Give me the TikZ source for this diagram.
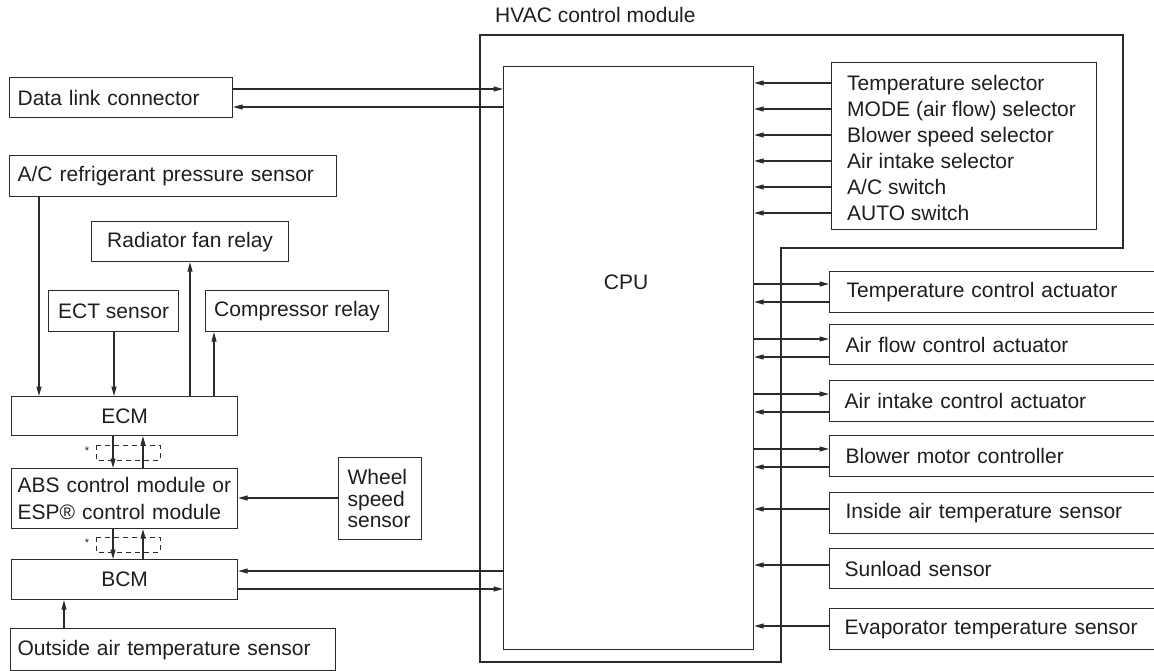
\documentclass[tikz,border=0pt]{standalone}
\usepackage{fontspec}
\setmainfont{Liberation Sans}
\usetikzlibrary{arrows.meta}
\definecolor{ink}{HTML}{2B2B2B}
\definecolor{txt}{HTML}{1E1E1E}
\begin{document}
\begin{tikzpicture}[x=1pt,y=-1pt,
  every node/.style={font=\fontsize{21}{25}\selectfont, text=txt},
  box/.style={draw=ink, line width=1.2pt, inner ysep=0pt, anchor=north west},
  lbox/.style={box, align=left},
  cbox/.style={box, align=center, inner xsep=0pt},
  lab/.style={inner sep=0pt, anchor=base west},
  arr/.style={draw=ink, line width=1.1pt, -{Triangle[length=9.5pt,width=5pt]}},
  ln/.style={draw=ink, line width=1.2pt, line join=miter},
  dbox/.style={draw=ink, line width=1pt, dash pattern=on 5pt off 4pt},
  star/.style={inner sep=0pt, font=\fontsize{11}{11}\selectfont}]
\useasboundingbox (0,0) rectangle (1154,671);
\clip (0,0) rectangle (1154,671);

% HVAC control module outline
\node[lab] (hvac) at (495,22.5) {HVAC control module};
\draw[ln] (480,35) -- (1123,35) -- (1123,248) -- (781,248) -- (781,662) -- (480,662) -- cycle;

% CPU
\node[box, inner sep=0pt, minimum width=250, minimum height=583] (cpu) at (503,66) {};
\node[inner sep=0pt] (cpul) at (626,282) {CPU};

% selector box
\node[box, inner sep=0pt, minimum width=265, minimum height=167] (sel) at (831,62) {};
\node[lab] (s1) at (847,90.5) {Temperature selector};
\node[lab] (s2) at (847,116.5) {MODE (air flow) selector};
\node[lab] (s3) at (847,142.5) {Blower speed selector};
\node[lab] (s4) at (847,168.5) {Air intake selector};
\node[lab] (s5) at (847,194.5) {A/C switch};
\node[lab] (s6) at (847,220.5) {AUTO switch};
\foreach \y in {83,109,135,161,187,213}
  \draw[arr] (sel.west |- 0,\y) -- (cpu.east |- 0,\y);

% right boxes
\node[lbox, minimum width=331, text width=297, inner xsep=17, minimum height=41] (tca) at (829,271) {Temperature control actuator};
\node[lbox, minimum width=331, text width=299, inner xsep=16, minimum height=40] (afa) at (829,324) {Air flow control actuator};
\node[lbox, minimum width=331, text width=301, inner xsep=15, minimum height=41] (aia) at (829,380) {Air intake control actuator};
\node[lbox, minimum width=331, text width=299, inner xsep=16, minimum height=41] (bmc) at (829,435) {Blower motor controller};
\node[lbox, minimum width=331, text width=299, inner xsep=16, minimum height=41] (iat) at (829,492) {Inside air temperature sensor};
\node[lbox, minimum width=331, text width=301, inner xsep=15, minimum height=40] (sun) at (829,548) {Sunload sensor};
\node[lbox, minimum width=331, text width=301, inner xsep=15, minimum height=41] (evt) at (829,608) {Evaporator temperature sensor};

\draw[arr] (cpu.east |- 0,284) -- (tca.west |- 0,284);
\draw[arr] (tca.west |- 0,302) -- (cpu.east |- 0,302);
\draw[arr] (cpu.east |- 0,339) -- (afa.west |- 0,339);
\draw[arr] (afa.west |- 0,357) -- (cpu.east |- 0,357);
\draw[arr] (cpu.east |- 0,394) -- (aia.west |- 0,394);
\draw[arr] (aia.west |- 0,412) -- (cpu.east |- 0,412);
\draw[arr] (cpu.east |- 0,449) -- (bmc.west |- 0,449);
\draw[arr] (bmc.west |- 0,467) -- (cpu.east |- 0,467);
\draw[arr] (iat.west |- 0,509) -- (cpu.east |- 0,509);
\draw[arr] (sun.west |- 0,565) -- (cpu.east |- 0,565);
\draw[arr] (evt.west |- 0,626) -- (cpu.east |- 0,626);

% left side
\node[lbox, minimum width=223, text width=207, inner xsep=8, minimum height=40] (dlc) at (9,77) {Data link connector};
\node[lbox, minimum width=327, text width=311, inner xsep=8, minimum height=41] (acp) at (9,155) {A/C refrigerant pressure sensor};
\node[cbox, minimum width=197, minimum height=40] (rfr) at (91,221) {Radiator fan relay};
\node[cbox, minimum width=130, minimum height=41] (ect) at (48,290) {ECT sensor};
\node[cbox, minimum width=183, minimum height=41] (cpr) at (205,290) {Compressor relay};
\node[cbox, minimum width=226, minimum height=39] (ecm) at (11,396) {ECM};
\node[lbox, minimum width=226, text width=214, inner xsep=6, minimum height=60, font=\fontsize{21}{27}\selectfont] (abs) at (11,468) {ABS control module or\\ESP® control module};
\node[lbox, minimum width=83, text width=65, inner xsep=9, minimum height=82, font=\fontsize{21}{21.5}\selectfont] (wss) at (338,457) {Wheel\\speed\\sensor};
\node[cbox, minimum width=226, minimum height=40] (bcm) at (11,559) {BCM};
\node[lbox, minimum width=325, text width=311, inner xsep=7, minimum height=42] (oat) at (10,628) {Outside air temperature sensor};

\draw[arr] (dlc.east |- 0,89) -- (cpu.west |- 0,89);
\draw[arr] (cpu.west |- 0,107) -- (dlc.east |- 0,107);
\draw[arr] (acp.south -| 39,0) -- (ecm.north -| 39,0);
\draw[arr] (ect.south -| 114,0) -- (ecm.north -| 114,0);
\draw[arr] (ecm.north -| 190,0) -- (rfr.south -| 190,0);
\draw[arr] (ecm.north -| 214,0) -- (cpr.south -| 214,0);

% ECM <-> ABS
\draw[dbox] (96,445) rectangle (160,460);
\node[star] (st1) at (87,451) {*};
\draw[arr] (ecm.south -| 113,0) -- (abs.north -| 113,0);
\draw[arr] (abs.north -| 143,0) -- (ecm.south -| 143,0);

% ABS <-> BCM
\draw[dbox] (96,537) rectangle (160,552);
\node[star] (st2) at (87,543) {*};
\draw[arr] (abs.south -| 113,0) -- (bcm.north -| 113,0);
\draw[arr] (bcm.north -| 143,0) -- (abs.south -| 143,0);

\draw[arr] (wss.west |- 0,498) -- (abs.east |- 0,498);
\draw[arr] (cpu.west |- 0,571) -- (bcm.east |- 0,571);
\draw[arr] (bcm.east |- 0,589) -- (cpu.west |- 0,589);
\draw[arr] (oat.north -| 64,0) -- (bcm.south -| 64,0);
\end{tikzpicture}
\end{document}
